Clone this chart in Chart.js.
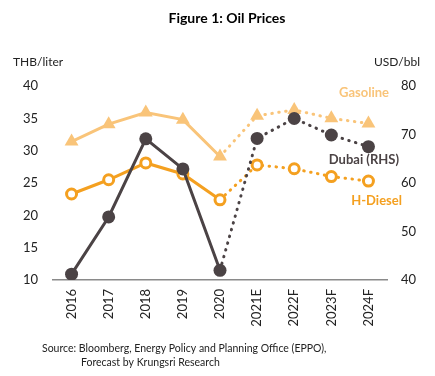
<!DOCTYPE html>
<html>
<head>
<meta charset="utf-8">
<script src="https://cdn.jsdelivr.net/npm/chart.js@4"></script>
<style>
  html, body { margin: 0; padding: 0; background: #fff; }
  #wrap { width: 435px; height: 376px; }
</style>
</head>
<body>
<div id="wrap"><canvas id="oilChart" width="435" height="376"></canvas></div>
<script>
// Data
const years = ['2016', '2017', '2018', '2019', '2020', '2021E', '2022F', '2023F', '2024F'];
const gasoline = [31.4, 34.1, 35.9, 34.8, 29.1, 35.4, 36.3, 35.0, 34.2];   // THB/liter
const hDiesel = [23.3, 25.5, 28.1, 26.4, 22.4, 27.8, 27.2, 26.0, 25.3];    // THB/liter
const dubai = [41.2, 53.0, 69.1, 62.9, 42.0, 69.2, 73.3, 69.9, 67.5];      // USD/bbl
const leftTicks = { min: 10, max: 40, step: 5 };
const rightTicks = { min: 40, max: 80, step: 10 };
const lastActual = 4; // 2020, after that forecast (dotted)

const FONT = 'Lato, "Open Sans", sans-serif';
const GAS = '#F9C479';
const DIESEL = '#F4A020';
const DUBAI = '#4B4345';

const dotted = ctx => ctx.p0DataIndex >= lastActual ? [0.5, 6.5] : undefined;

// Title, axis units, series labels and source note
const textPlugin = {
  id: 'texts',
  afterDraw(chart) {
    const c = chart.ctx;
    c.save();
    c.textBaseline = 'middle';
    c.fillStyle = '#000';
    c.font = 'bold 14px ' + FONT;
    c.textAlign = 'center';
    c.fillText('Figure 1: Oil Prices', 227, 18);

    c.font = '12px ' + FONT;
    c.fillStyle = '#222';
    c.textAlign = 'left';
    c.fillText('THB/liter', 13, 62);
    c.textAlign = 'right';
    c.fillText('USD/bbl', 420, 62);

    c.font = 'bold 13px ' + FONT;
    c.fillStyle = GAS;
    c.fillText('Gasoline', 389, 93);
    c.fillStyle = DUBAI;
    c.fillText('Dubai (RHS)', 399, 160);
    c.fillStyle = DIESEL;
    c.fillText('H-Diesel', 402, 201);

    c.font = '10.5px ' + FONT;
    c.fillStyle = '#222';
    c.textAlign = 'left';
    c.fillText('Source: Bloomberg, Energy Policy and Planning Office (EPPO),', 42, 349);
    c.fillText('Forecast by Krungsri Research', 81, 363);
    c.restore();
  }
};

new Chart(document.getElementById('oilChart'), {
  type: 'line',
  data: {
    labels: years,
    datasets: [
      {
        label: 'Dubai (RHS)',
        data: dubai,
        yAxisID: 'yR',
        borderColor: DUBAI,
        backgroundColor: DUBAI,
        borderWidth: 3,
        borderCapStyle: 'round',
        pointRadius: 6.5,
        pointBorderWidth: 0,
        segment: { borderDash: dotted }
      },
      {
        label: 'H-Diesel',
        data: hDiesel,
        yAxisID: 'yL',
        borderColor: DIESEL,
        backgroundColor: '#fff',
        borderWidth: 3,
        borderCapStyle: 'round',
        pointRadius: 5,
        pointBorderWidth: 3,
        pointBorderColor: DIESEL,
        pointBackgroundColor: '#fff',
        segment: { borderDash: dotted }
      },
      {
        label: 'Gasoline',
        data: gasoline,
        yAxisID: 'yL',
        borderColor: GAS,
        backgroundColor: GAS,
        borderWidth: 3,
        borderCapStyle: 'round',
        pointStyle: 'triangle',
        pointRadius: 8,
        pointBorderWidth: 0,
        segment: { borderDash: dotted }
      }
    ]
  },
  options: {
    responsive: false,
    animation: false,
    layout: { padding: { top: 86, left: 0, right: 0, bottom: 0 } },
    plugins: {
      legend: { display: false },
      title: { display: false },
      tooltip: { enabled: false }
    },
    scales: {
      x: {
        offset: true,
        grid: { display: false, drawTicks: false },
        border: { display: true, color: '#8a8a8a', width: 1.5 },
        ticks: {
          minRotation: 90,
          maxRotation: 90,
          padding: 9,
          color: '#222',
          font: { family: FONT, size: 13 }
        },
        afterFit(scale) { scale.height = 96; }
      },
      yL: {
        position: 'left',
        min: leftTicks.min,
        max: leftTicks.max,
        grid: { display: false, drawTicks: false },
        border: { display: false },
        ticks: {
          stepSize: leftTicks.step,
          padding: 15,
          color: '#222',
          font: { family: FONT, size: 13 }
        },
        afterFit(scale) { scale.width = 53; }
      },
      yR: {
        position: 'right',
        min: rightTicks.min,
        max: rightTicks.max,
        grid: { display: false, drawTicks: false },
        border: { display: false },
        ticks: {
          stepSize: rightTicks.step,
          padding: 14,
          color: '#222',
          font: { family: FONT, size: 13 }
        },
        afterFit(scale) { scale.width = 48; }
      }
    }
  },
  plugins: [textPlugin]
});
</script>
</body>
</html>
